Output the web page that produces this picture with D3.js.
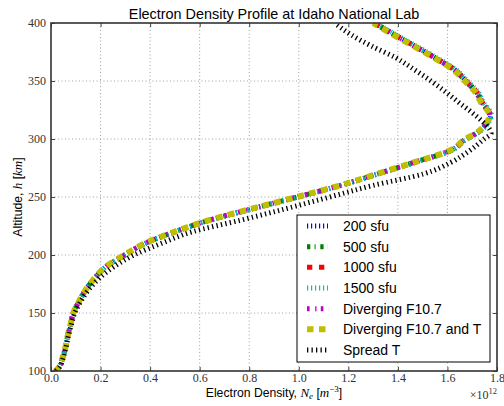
<!DOCTYPE html>
<html>
<head>
<meta charset="utf-8">
<script src="https://cdn.jsdelivr.net/npm/d3@7/dist/d3.min.js"></script>
<style>
  body { margin: 0; background: #fff; }
  svg { display: block; }
</style>
</head>
<body>
<script>
// altitude grid (km) shared by all profiles
var altitudes = [100, 104, 110, 120, 130, 140, 150, 160, 170, 180, 190, 200, 210, 220, 230, 240, 250,
  260, 270, 280, 290, 300, 305, 310, 315, 320, 325, 330, 340, 350, 360, 370, 380, 390, 400];

// electron density, units of 1e12 m^-3
var ne200 = [0.018, 0.035, 0.045, 0.058, 0.067, 0.079, 0.090, 0.113, 0.140, 0.176, 0.222, 0.298, 0.380, 0.500,
  0.640, 0.815, 0.995, 1.170, 1.320, 1.470, 1.612, 1.676, 1.718, 1.746, 1.764, 1.774, 1.764, 1.746, 1.720,
  1.676, 1.628, 1.552, 1.470, 1.386, 1.306];
var ne500 = [0.018, 0.035, 0.045, 0.058, 0.067, 0.079, 0.090, 0.113, 0.140, 0.176, 0.222, 0.297, 0.379, 0.499,
  0.639, 0.814, 0.994, 1.169, 1.319, 1.469, 1.611, 1.675, 1.717, 1.745, 1.763, 1.772, 1.762, 1.743, 1.717,
  1.673, 1.625, 1.549, 1.467, 1.383, 1.303];
var ne1000 = [0.018, 0.035, 0.045, 0.058, 0.067, 0.079, 0.090, 0.113, 0.140, 0.176, 0.222, 0.298, 0.380, 0.500,
  0.640, 0.815, 0.995, 1.170, 1.320, 1.470, 1.613, 1.677, 1.719, 1.747, 1.765, 1.774, 1.764, 1.745, 1.719,
  1.675, 1.627, 1.551, 1.469, 1.385, 1.305];
var ne1500 = [0.018, 0.035, 0.045, 0.058, 0.067, 0.079, 0.090, 0.113, 0.140, 0.176, 0.222, 0.299, 0.381, 0.501,
  0.641, 0.817, 0.997, 1.172, 1.322, 1.473, 1.616, 1.680, 1.722, 1.750, 1.768, 1.778, 1.769, 1.750, 1.725,
  1.681, 1.633, 1.557, 1.475, 1.391, 1.311];
var neDivF = [0.018, 0.035, 0.045, 0.058, 0.067, 0.079, 0.090, 0.113, 0.140, 0.176, 0.222, 0.297, 0.379, 0.499,
  0.639, 0.813, 0.993, 1.168, 1.318, 1.468, 1.610, 1.674, 1.716, 1.744, 1.762, 1.771, 1.761, 1.742, 1.716,
  1.672, 1.624, 1.548, 1.466, 1.382, 1.302];
var neDivFT = [0.018, 0.035, 0.045, 0.058, 0.067, 0.079, 0.090, 0.113, 0.140, 0.176, 0.222, 0.296, 0.378, 0.498,
  0.638, 0.812, 0.992, 1.167, 1.317, 1.467, 1.609, 1.673, 1.715, 1.743, 1.761, 1.770, 1.760, 1.740, 1.714,
  1.670, 1.622, 1.546, 1.464, 1.380, 1.300];
var neSpreadT = [0.020, 0.036, 0.047, 0.060, 0.070, 0.082, 0.096, 0.120, 0.152, 0.195, 0.255, 0.335, 0.445, 0.570,
  0.765, 0.950, 1.125, 1.300, 1.505, 1.615, 1.690, 1.748, 1.776, 1.765, 1.742, 1.715, 1.686, 1.655, 1.596,
  1.534, 1.465, 1.392, 1.295, 1.210, 1.145];

var seriesNames = ['200 sfu', '500 sfu', '1000 sfu', '1500 sfu', 'Diverging F10.7', 'Diverging F10.7 and T', 'Spread T'];
var seriesValues = [ne200, ne500, ne1000, ne1500, neDivF, neDivFT, neSpreadT];

var xTicks = [0, 0.2, 0.4, 0.6, 0.8, 1.0, 1.2, 1.4, 1.6, 1.8];
var yTicks = [100, 150, 200, 250, 300, 350, 400];

// matplotlib classic look
var styles = [
  { color: '#0000ff', width: 5, dash: '1.2,2.8' },
  { color: '#008000', width: 5, dash: '3.3,4.3,1,4.7' },
  { color: '#ff0000', width: 5, dash: '5.3,6.7' },
  { color: '#00bfbf', width: 5, dash: '1.2,2.8' },
  { color: '#bf00bf', width: 5, dash: '2.6,5.6,1.3,4.3' },
  { color: '#bfbf00', width: 6, dash: '6.5,5.5' },
  { color: '#000000', width: 5, dash: '1.3,3.2' }
];

var W = 504, H = 406;
// plot box (note: "top" is taken by window.top)
var pL = 51, pR = 497, pT = 23, pB = 371;

var svg = d3.select('body').append('svg')
  .attr('width', W)
  .attr('height', H);

var x = d3.scaleLinear().domain([0, 1.8]).range([pL, pR]);
var y = d3.scaleLinear().domain([100, 400]).range([pB, pT]);

// grid
var grid = svg.append('g').attr('stroke', '#888').attr('stroke-width', 0.8).attr('stroke-dasharray', '1,2.5');
grid.selectAll('.gx').data(xTicks.slice(1, -1)).enter().append('line')
  .attr('x1', function (d) { return x(d); }).attr('x2', function (d) { return x(d); })
  .attr('y1', pT).attr('y2', pB);
grid.selectAll('.gy').data(yTicks.slice(1, -1)).enter().append('line')
  .attr('x1', pL).attr('x2', pR)
  .attr('y1', function (d) { return y(d); }).attr('y2', function (d) { return y(d); });

// curves
svg.append('clipPath').attr('id', 'plotclip').append('rect')
  .attr('x', pL).attr('y', pT).attr('width', pR - pL).attr('height', pB - pT);

var line = d3.line()
  .x(function (d) { return x(d[1]); })
  .y(function (d) { return y(d[0]); })
  .curve(d3.curveMonotoneY);

var curves = svg.append('g').attr('clip-path', 'url(#plotclip)');
seriesValues.forEach(function (vals, i) {
  curves.append('path')
    .datum(altitudes.map(function (h, j) { return [h, vals[j]]; }))
    .attr('fill', 'none')
    .attr('stroke', styles[i].color)
    .attr('stroke-width', styles[i].width)
    .attr('stroke-dasharray', styles[i].dash)
    .attr('d', line);
});

// axes, ticks pointing inward on all four sides
var fmtX = function (d) { return d.toFixed(1); };
var axB = svg.append('g').attr('transform', 'translate(0,' + pB + ')')
  .call(d3.axisBottom(x).tickValues(xTicks).tickFormat(fmtX).tickSize(-4).tickPadding(2.5));
var axT = svg.append('g').attr('transform', 'translate(0,' + pT + ')')
  .call(d3.axisTop(x).tickValues(xTicks).tickFormat('').tickSize(-4));
var axL = svg.append('g').attr('transform', 'translate(' + pL + ',0)')
  .call(d3.axisLeft(y).tickValues(yTicks).tickSize(-4).tickPadding(5));
var axR = svg.append('g').attr('transform', 'translate(' + pR + ',0)')
  .call(d3.axisRight(y).tickValues(yTicks).tickFormat('').tickSize(-4));
[axB, axT, axL, axR].forEach(function (a) {
  a.select('.domain').remove();
  a.selectAll('.tick line').attr('stroke', '#444').attr('stroke-width', 1);
  a.selectAll('text')
    .attr('font-family', '"Liberation Serif", "DejaVu Serif", serif')
    .attr('font-size', '12px')
    .attr('fill', '#333');
});

// frame
svg.append('rect')
  .attr('x', pL).attr('y', pT).attr('width', pR - pL).attr('height', pB - pT)
  .attr('fill', 'none').attr('stroke', '#333').attr('stroke-width', 1.6);

// title
svg.append('text')
  .attr('x', (pL + pR) / 2).attr('y', 19)
  .attr('text-anchor', 'middle')
  .attr('font-family', '"Liberation Sans", Arial, sans-serif')
  .attr('font-size', '14.4px')
  .text('Electron Density Profile at Idaho National Lab');

// x label
var xl = svg.append('text')
  .attr('x', (pL + pR) / 2).attr('y', 397)
  .attr('text-anchor', 'middle')
  .attr('font-family', '"Liberation Sans", Arial, sans-serif')
  .attr('font-size', '12.2px');
xl.append('tspan').text('Electron Density, ');
xl.append('tspan').attr('font-family', '"Liberation Serif", serif').attr('font-style', 'italic').attr('font-size', '13px').text('N');
xl.append('tspan').attr('font-family', '"Liberation Serif", serif').attr('font-style', 'italic').attr('font-size', '9px').attr('dy', 2).text('e');
xl.append('tspan').attr('dy', -2).text(' [');
xl.append('tspan').attr('font-family', '"Liberation Serif", serif').attr('font-style', 'italic').attr('font-size', '13px').text('m');
xl.append('tspan').attr('font-family', '"Liberation Serif", serif').attr('font-size', '9px').attr('dy', -5).text('\u22123');
xl.append('tspan').attr('dy', 5).text(']');

// offset text
var off = svg.append('text')
  .attr('x', pR).attr('y', 399)
  .attr('text-anchor', 'end')
  .attr('font-family', '"Liberation Serif", serif')
  .attr('font-size', '12px')
  .attr('fill', '#333');
off.append('tspan').text('\u00d710');
off.append('tspan').attr('font-size', '8.5px').attr('dy', -5).text('12');

// y label
var yl = svg.append('text')
  .attr('transform', 'translate(22,' + ((pT + pB) / 2) + ') rotate(-90)')
  .attr('text-anchor', 'middle')
  .attr('font-family', '"Liberation Sans", Arial, sans-serif')
  .attr('font-size', '12.2px');
yl.append('tspan').text('Altitude, ');
yl.append('tspan').attr('font-family', '"Liberation Serif", serif').attr('font-style', 'italic').attr('font-size', '13px').text('h');
yl.append('tspan').text(' [');
yl.append('tspan').attr('font-family', '"Liberation Serif", serif').attr('font-style', 'italic').attr('font-size', '13px').text('km');
yl.append('tspan').text(']');

// legend
var lg = svg.append('g');
lg.append('rect')
  .attr('x', 297).attr('y', 215).attr('width', 193).attr('height', 147)
  .attr('fill', '#fff').attr('stroke', '#000').attr('stroke-width', 1);
seriesNames.forEach(function (name, i) {
  var cy = 226 + i * 20.67;
  lg.append('line')
    .attr('x1', 307).attr('x2', 328).attr('y1', cy).attr('y2', cy)
    .attr('stroke', styles[i].color)
    .attr('stroke-width', styles[i].width)
    .attr('stroke-dasharray', styles[i].dash);
  lg.append('text')
    .attr('x', 343).attr('y', cy + 5)
    .attr('font-family', '"Liberation Sans", Arial, sans-serif')
    .attr('font-size', '14px')
    .text(name);
});
</script>
</body>
</html>
